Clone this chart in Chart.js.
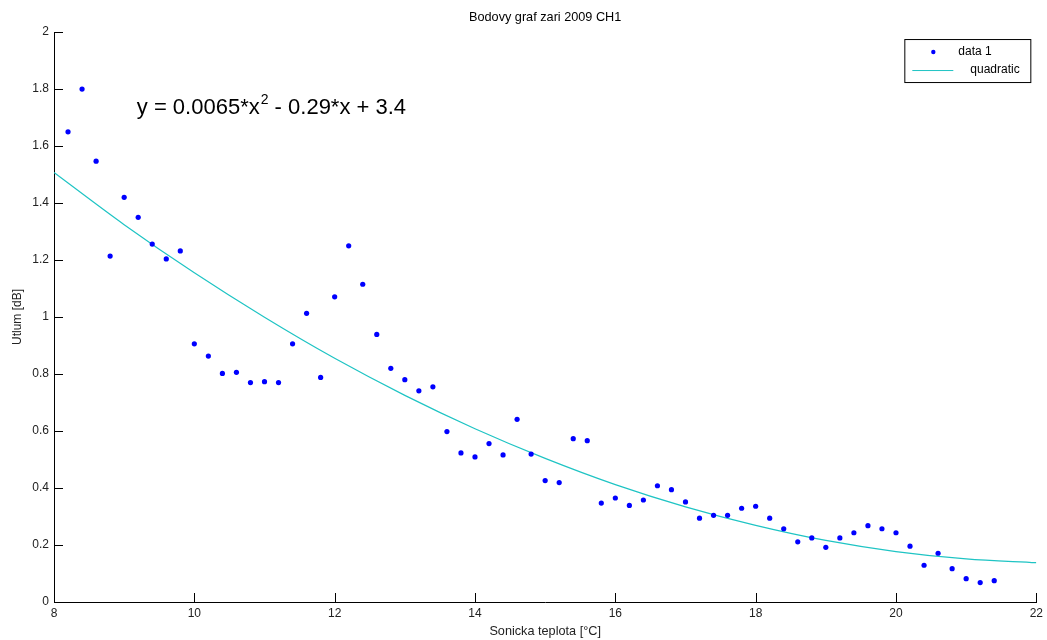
<!DOCTYPE html>
<html>
<head>
<meta charset="utf-8">
<title>Bodovy graf zari 2009 CH1</title>
<script src="https://cdn.jsdelivr.net/npm/chart.js@4.4.1/dist/chart.umd.min.js"></script>
<style>
  html, body { margin: 0; padding: 0; background: #fff; }
  #wrap { width: 1047px; height: 640px; }
</style>
</head>
<body>
<div id="wrap"><canvas id="graf" width="1047" height="640"></canvas></div>
<script>
// namerene body (sonicka teplota, utlum)
const teplota = [
  8.2, 8.4, 8.6, 8.8, 9.0, 9.2, 9.4, 9.6, 9.8, 10.0,
  10.2, 10.4, 10.6, 10.8, 11.0, 11.2, 11.4, 11.6, 11.8, 12.0,
  12.2, 12.4, 12.6, 12.8, 13.0, 13.2, 13.4, 13.6, 13.8, 14.0,
  14.2, 14.4, 14.6, 14.8, 15.0, 15.2, 15.4, 15.6, 15.8, 16.0,
  16.2, 16.4, 16.6, 16.8, 17.0, 17.2, 17.4, 17.6, 17.8, 18.0,
  18.2, 18.4, 18.6, 18.8, 19.0, 19.2, 19.4, 19.6, 19.8, 20.0,
  20.2, 20.4, 20.6, 20.8, 21.0, 21.2, 21.4
];
const utlum = [
  1.65, 1.80, 1.547, 1.214, 1.42, 1.35, 1.256, 1.204, 1.232, 0.906,
  0.863, 0.802, 0.806, 0.77, 0.773, 0.77, 0.906, 1.013, 0.788, 1.071,
  1.25, 1.115, 0.939, 0.82, 0.78, 0.741, 0.755, 0.598, 0.523, 0.509,
  0.556, 0.516, 0.641, 0.519, 0.426, 0.419, 0.573, 0.566, 0.347, 0.365,
  0.339, 0.358, 0.408, 0.394, 0.351, 0.294, 0.304, 0.304, 0.329, 0.336,
  0.294, 0.257, 0.211, 0.225, 0.192, 0.225, 0.243, 0.268, 0.257, 0.243,
  0.196, 0.129, 0.171, 0.117, 0.082, 0.068, 0.075
];

// krivka "quadratic"
const fitX = [8, 9, 10, 11, 12, 13, 14, 15, 16, 17, 18, 19, 20, 21, 22];
const fitY = [1.507, 1.324, 1.155, 0.999, 0.855, 0.725, 0.608, 0.504, 0.412, 0.334, 0.269, 0.216, 0.177, 0.151, 0.138];

const xTicks = [8, 10, 12, 14, 16, 18, 20, 22];
const yTicks = [0, 0.2, 0.4, 0.6, 0.8, 1, 1.2, 1.4, 1.6, 1.8, 2];
const rovnice = ['y = 0.0065*x', '2', ' - 0.29*x + 3.4'];

const FONT = '"Liberation Sans", Arial, sans-serif';
Chart.defaults.font.family = FONT;
Chart.defaults.color = '#222';

// tick znacky dovnitr grafu (jako v MATLABu)
const tickyDovnitr = {
  id: 'tickyDovnitr',
  afterDraw(chart) {
    const ctx = chart.ctx;
    const xs = chart.scales.x, ys = chart.scales.y;
    const a = chart.chartArea;
    ctx.save();
    ctx.strokeStyle = '#000';
    ctx.lineWidth = 1;
    ctx.beginPath();
    xTicks.forEach(v => {
      const px = Math.round(xs.getPixelForValue(v)) + 0.5;
      ctx.moveTo(px, a.bottom);
      ctx.lineTo(px, a.bottom - 9);
    });
    yTicks.forEach(v => {
      const py = Math.round(ys.getPixelForValue(v)) + 0.5;
      ctx.moveTo(a.left, py);
      ctx.lineTo(a.left + 9, py);
    });
    ctx.stroke();
    ctx.restore();
  }
};

// rovnice a legenda
const popisky = {
  id: 'popisky',
  afterDraw(chart) {
    const ctx = chart.ctx;
    const xs = chart.scales.x, ys = chart.scales.y;
    const a = chart.chartArea;
    ctx.save();

    // rovnice
    let px = xs.getPixelForValue(9.18);
    const py = ys.getPixelForValue(1.712);
    ctx.fillStyle = '#000';
    ctx.textBaseline = 'alphabetic';
    ctx.font = '22px ' + FONT;
    ctx.fillText(rovnice[0], px, py);
    px += ctx.measureText(rovnice[0]).width;
    ctx.font = '14px ' + FONT;
    ctx.fillText(rovnice[1], px + 1, py - 10);
    px += ctx.measureText(rovnice[1]).width + 1;
    ctx.font = '22px ' + FONT;
    ctx.fillText(rovnice[2], px, py);

    // legenda
    const ds = chart.data.datasets;
    const bx = a.right - 132, by = a.top + 7, bw = 126, bh = 43;
    ctx.fillStyle = '#fff';
    ctx.fillRect(bx, by, bw, bh);
    ctx.strokeStyle = '#000';
    ctx.lineWidth = 1;
    ctx.strokeRect(bx + 0.5, by + 0.5, bw, bh);

    ctx.font = '12px ' + FONT;
    ctx.textBaseline = 'middle';
    ctx.fillStyle = ds[0].pointBackgroundColor;
    ctx.beginPath();
    ctx.arc(bx + 29, by + 13, 2.2, 0, Math.PI * 2);
    ctx.fill();
    ctx.fillStyle = '#000';
    ctx.fillText(ds[0].label, bx + 54, by + 13);

    ctx.strokeStyle = ds[1].borderColor;
    ctx.beginPath();
    ctx.moveTo(bx + 8, by + 31.5);
    ctx.lineTo(bx + 49, by + 31.5);
    ctx.stroke();
    ctx.fillStyle = '#000';
    ctx.fillText(ds[1].label, bx + 66, by + 31);

    ctx.restore();
  }
};

const ctx = document.getElementById('graf').getContext('2d');
new Chart(ctx, {
  type: 'scatter',
  data: {
    datasets: [
      {
        label: 'data 1',
        data: teplota.map((t, i) => ({ x: t, y: utlum[i] })),
        pointBackgroundColor: '#0000ff',
        pointBorderWidth: 0,
        pointRadius: 2.6,
        pointStyle: 'circle'
      },
      {
        label: 'quadratic',
        data: fitX.map((t, i) => ({ x: t, y: fitY[i] })),
        showLine: true,
        borderColor: '#1fc4c4',
        borderWidth: 1.2,
        pointRadius: 0,
        cubicInterpolationMode: 'monotone',
        fill: false
      }
    ]
  },
  options: {
    responsive: false,
    animation: false,
    events: [],
    layout: { padding: { left: 0, right: 10, top: 0, bottom: 0 } },
    plugins: {
      legend: { display: false },
      tooltip: { enabled: false },
      title: {
        display: true,
        fullSize: false,
        text: 'Bodovy graf zari 2009 CH1',
        color: '#000',
        font: { size: 12.7, weight: 'normal' },
        padding: { top: 9.5, bottom: 7.3 }
      }
    },
    scales: {
      x: {
        type: 'linear',
        min: 8,
        max: 22,
        afterBuildTicks: s => { s.ticks = xTicks.map(v => ({ value: v })); },
        afterFit: s => { s.height = 38; },
        grid: { display: false, drawTicks: false },
        border: { display: true, color: '#000', width: 1 },
        ticks: { padding: 4, font: { size: 12 }, maxRotation: 0 },
        title: {
          display: true,
          text: 'Sonicka teplota [°C]',
          color: '#222',
          font: { size: 12.7 },
          padding: { top: 4, bottom: 1 }
        }
      },
      y: {
        type: 'linear',
        min: 0,
        max: 2,
        afterBuildTicks: s => { s.ticks = yTicks.map(v => ({ value: v })); },
        afterFit: s => { s.width = 54; },
        grid: { display: false, drawTicks: false },
        border: { display: true, color: '#000', width: 1 },
        ticks: {
          padding: 5,
          font: { size: 12 },
          callback: v => String(Number(v.toFixed(1)))
        },
        title: {
          display: true,
          text: 'Utlum [dB]',
          color: '#222',
          font: { size: 12 },
          padding: { top: 10, bottom: 0 }
        }
      }
    }
  },
  plugins: [tickyDovnitr, popisky]
});
</script>
</body>
</html>
